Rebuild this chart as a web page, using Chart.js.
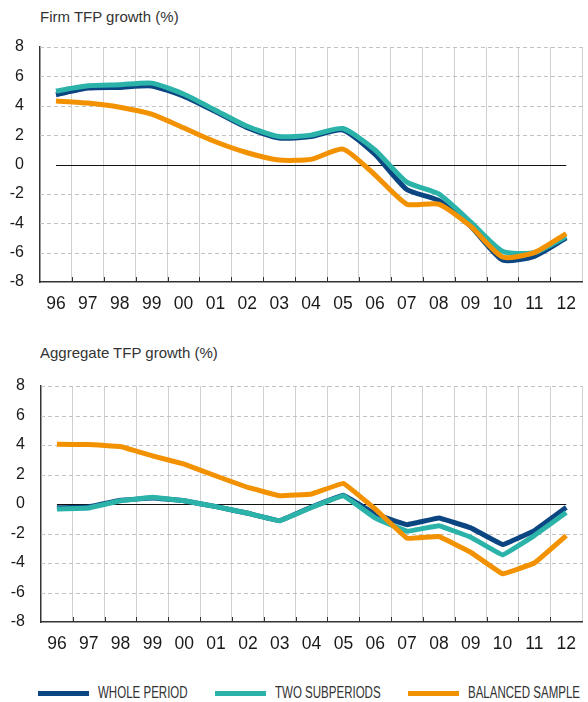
<!DOCTYPE html>
<html>
<head>
<meta charset="utf-8">
<script src="https://cdn.jsdelivr.net/npm/chart.js@4/dist/chart.umd.min.js"></script>
<style>
  body { margin: 0; background: #fff; font-family: "Liberation Sans", Arial, sans-serif; }
  #wrap { position: relative; width: 588px; height: 702px; overflow: hidden; }
  .title { position: absolute; left: 40px; font-size: 15px; color: #333; white-space: nowrap; }
  .box { position: absolute; left: 0; width: 588px; height: 300px; }
  #legend { position: absolute; top: 684px; left: 0; width: 588px; height: 18px; font-size: 16px; color: #333; }
  .item { position: absolute; top: 0; white-space: nowrap; line-height: 18px; }
  .sw { position: absolute; left: 0; top: 7px; width: 51px; height: 5px; }
  .txt { position: absolute; left: 60px; top: 0; display: inline-block; transform: scaleX(0.72); transform-origin: 0 50%; }
</style>
</head>
<body>
<div id="wrap">
  <div class="title" style="top:8px">Firm TFP growth (%)</div>
  <div class="box" style="top:30px"><canvas id="firmChart"></canvas></div>
  <div class="title" style="top:344px">Aggregate TFP growth (%)</div>
  <div class="box" style="top:370px"><canvas id="aggChart"></canvas></div>
  <div id="legend"></div>
</div>
<script>
const years = ['96', '97', '98', '99', '00', '01', '02', '03', '04', '05', '06', '07', '08', '09', '10', '11', '12'];
const yTicks = [-8, -6, -4, -2, 0, 2, 4, 6, 8];

// firm TFP growth (%)
const firmWhole = [4.75, 5.2, 5.25, 5.35, 4.65, 3.6, 2.5, 1.8, 1.9, 2.35, 0.7, -1.7, -2.45, -4.2, -6.5, -6.25, -5.0];
const firmTwo = [5.0, 5.36, 5.43, 5.54, 4.8, 3.7, 2.6, 1.9, 2.0, 2.45, 1.0, -1.2, -2.0, -3.9, -5.9, -6.0, -4.9];
const firmBalanced = [4.33, 4.18, 3.9, 3.43, 2.5, 1.55, 0.8, 0.3, 0.35, 1.05, -0.7, -2.7, -2.7, -4.2, -6.3, -6.0, -4.7];

// aggregate TFP growth (%)
const aggWhole = [-0.25, -0.2, 0.25, 0.4, 0.22, -0.18, -0.63, -1.13, -0.2, 0.6, -0.68, -1.4, -0.95, -1.62, -2.75, -1.8, -0.23];
const aggTwo = [-0.34, -0.27, 0.22, 0.45, 0.22, -0.18, -0.63, -1.13, -0.23, 0.56, -0.95, -1.85, -1.47, -2.25, -3.45, -2.14, -0.57];
const aggBalanced = [4.05, 4.03, 3.9, 3.26, 2.7, 1.9, 1.12, 0.56, 0.68, 1.4, -0.34, -2.32, -2.2, -3.27, -4.73, -4.0, -2.14];

const seriesNames = ['WHOLE PERIOD', 'TWO SUBPERIODS', 'BALANCED SAMPLE'];
const seriesColors = ['#0b4582', '#2bb3aa', '#f39200'];

// dashed horizontal grid, zero line and small ticks on the x axis
const decorations = {
  id: 'decorations',
  beforeDatasetsDraw(chart) {
    const { ctx, chartArea: a, scales: { x, y } } = chart;
    ctx.save();
    ctx.lineWidth = 1;
    ctx.strokeStyle = '#c2c2c2';
    ctx.setLineDash([4, 3]);
    yTicks.forEach(v => {
      if (v === 0 || v === yTicks[0]) return;
      const py = Math.round(y.getPixelForValue(v)) + 0.5;
      ctx.beginPath();
      ctx.moveTo(a.left, py);
      ctx.lineTo(a.right, py);
      ctx.stroke();
    });
    ctx.setLineDash([]);
    ctx.strokeStyle = '#111';
    const pz = Math.round(y.getPixelForValue(0)) + 0.5;
    ctx.beginPath();
    ctx.moveTo(x.getPixelForValue(0), pz);
    ctx.lineTo(x.getPixelForValue(years.length - 1), pz);
    ctx.stroke();
    // tick marks just above the axis, at the category boundaries
    ctx.strokeStyle = '#333';
    const step = x.width / years.length;
    for (let i = 1; i < years.length; i++) {
      const px = Math.round(a.left + i * step) + 0.5;
      ctx.beginPath();
      ctx.moveTo(px, a.bottom);
      ctx.lineTo(px, a.bottom - 5);
      ctx.stroke();
    }
    ctx.restore();
  }
};

function makeChart(id, data, tension, leftWidth, topPad) {
  const ctx = document.getElementById(id).getContext('2d');
  return new Chart(ctx, {
    type: 'line',
    data: {
      labels: years,
      datasets: data.map((vals, i) => ({
        label: seriesNames[i],
        data: vals,
        borderColor: seriesColors[i],
        borderWidth: 5,
        pointRadius: 0,
        fill: false,
        tension,
        order: 3 - i
      }))
    },
    options: {
      responsive: true,
      maintainAspectRatio: false,
      animation: false,
      layout: { padding: { top: topPad, right: 1, left: 0, bottom: 0 } },
      plugins: { legend: { display: false }, tooltip: { enabled: false } },
      scales: {
        x: {
          offset: true,
          grid: { offset: true, color: '#d0d0d0', lineWidth: 1, drawTicks: false },
          border: { color: '#333', width: 1.5 },
          ticks: { color: '#1a1a1a', font: { size: 17.5, family: 'Liberation Sans' }, padding: 12, maxRotation: 0, autoSkip: false },
          afterFit(scale) { scale.height = 48; }
        },
        y: {
          min: -8,
          max: 8,
          afterBuildTicks(scale) { scale.ticks = yTicks.map(v => ({ value: v })); },
          grid: { display: false, drawTicks: false },
          border: { color: '#333', width: 1.5 },
          ticks: { color: '#1a1a1a', font: { size: 16, family: 'Liberation Sans' }, padding: 16 },
          afterFit(scale) {
            scale.width = leftWidth;
            scale.paddingTop = 0;
            scale.paddingBottom = 0;
          }
        }
      }
    },
    plugins: [decorations]
  });
}

makeChart('firmChart', [firmWhole, firmTwo, firmBalanced], 0.2, 40, 17);
makeChart('aggChart', [aggWhole, aggTwo, aggBalanced], 0.05, 41, 16);

// legend
const legendPos = [38, 215, 408];
const legend = document.getElementById('legend');
seriesNames.forEach((name, i) => {
  const item = document.createElement('div');
  item.className = 'item';
  item.style.left = legendPos[i] + 'px';
  item.innerHTML = '<span class="sw" style="background:' + seriesColors[i] + '"></span><span class="txt">' + name + '</span>';
  legend.appendChild(item);
});
</script>
</body>
</html>
